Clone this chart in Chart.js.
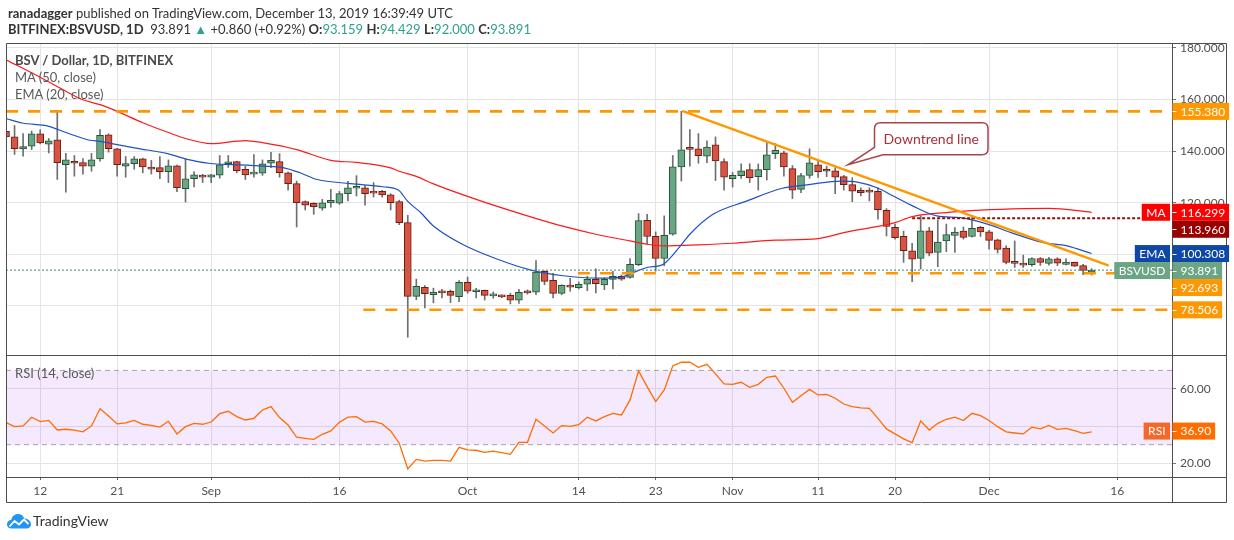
<!DOCTYPE html>
<html><head><meta charset="utf-8">
<script src="https://cdn.jsdelivr.net/npm/chart.js@4.4.1/dist/chart.umd.min.js"></script>
<style>
html,body{margin:0;padding:0;background:#fff;}
#wrap{position:relative;width:1234px;height:540px;overflow:hidden;font-family:Lato,'Open Sans',sans-serif;}
#c{position:absolute;left:0;top:0;}
.t{position:absolute;white-space:nowrap;line-height:16px;font-size:13px;}
.g{color:#2fa38f;}
</style></head><body>
<div id="wrap">
<canvas id="c" width="1234" height="540"></canvas>
<div class="t" style="left:8px;top:5px;color:#333"><b>ranadagger</b> published on TradingView.com, December 13, 2019 16:39:49 UTC</div>
<div class="t" style="left:8px;top:21px;color:#333"><b>BITFINEX:BSVUSD, 1D</b>&nbsp; 93.891 <span class="g">&#9650;</span> +0.860 (+0.92%) <b>O:</b><span class="g">93.159</span> <b>H:</b><span class="g">94.429</span> <b>L:</b><span class="g">92.000</span> <b>C:</b><span class="g">93.891</span></div>
<div class="t" style="left:15px;top:52px;color:#4a4a4a;font-weight:bold">BSV / Dollar, 1D, BITFINEX</div>
<div class="t" style="left:15px;top:69px;color:#5a5a5a">MA (50, close)</div>
<div class="t" style="left:15px;top:86px;color:#5a5a5a">EMA (20, close)</div>
<div class="t" style="left:15px;top:365px;color:#5a5a5a">RSI (14, close)</div>
<svg style="position:absolute;left:7px;top:513px" width="24" height="16" viewBox="0 0 24 16"><path d="M4.5 15.5 C1.5 15.5 0 13.5 0 11.2 C0 8.8 1.8 7 4.2 7 C4.8 3.4 7.6 1 11 1 C14 1 16.4 2.9 17.3 5.6 C21 5.6 24 8.2 24 11.2 C24 13.6 22.2 15.5 19.6 15.5 Z" fill="#2196f3"/><path d="M2.5 13.5 L7.5 8 L12 11.5 L17 6.5 L21.5 11" stroke="#fff" stroke-width="1.8" fill="none" stroke-linejoin="round"/></svg>
<div class="t" style="left:33px;top:513px;color:#333;font-size:14px">TradingView</div>
</div>
<script>
// ---- data (candle index 0 = 2019-08-08, one candle per day) ----
const opens = [147.7,145.5,140.8,141.9,146.7,142.7,144.4,134.7,136.0,135.6,
134.2,137.0,146.3,140.9,134.2,135.1,137.0,133.7,133.6,132.0,
134.3,125.4,129.3,130.5,129.9,130.7,135.1,135.9,132.9,131.1,
131.5,135.3,135.9,131.6,127.4,120.4,119.8,117.9,119.9,119.8,
123.5,125.6,125.8,124.0,124.4,123.1,120.4,112.3,83.7,87.2,
84.4,85.8,85.7,83.6,89.2,85.5,86.1,83.9,84.1,84.1,
82.2,85.8,85.3,93.4,89.9,84.9,87.7,87.1,88.4,90.3,
88.2,90.3,91.5,91.1,96.0,113.2,107.0,98.4,107.8,133.9,
141.0,140.9,138.0,142.4,135.9,129.3,130.5,132.8,130.1,132.8,
139.0,139.3,133.2,125.2,130.6,134.7,132.5,132.4,130.1,127.0,
124.8,124.9,124.4,117.1,110.5,107.0,101.4,98.4,109.1,100.7,
105.2,107.3,109.0,106.9,110.5,108.7,105.6,102.4,97.0,96.3,
96.0,98.4,96.5,98.3,96.1,96.9,95.6,93.159];
const highs = [148.5,149.9,146.8,147.8,148.3,144.9,155.7,139.1,138.3,137.1,
139.1,148.3,146.7,141.1,137.9,137.9,137.3,136.4,137.9,136.6,
134.6,136.9,132.1,131.0,131.0,138.3,138.3,136.1,134.1,138.7,
136.6,139.5,139.0,131.9,128.4,120.7,120.0,121.3,125.2,124.4,
128.3,130.5,126.7,127.8,124.8,123.5,121.0,115.1,90.4,87.9,
86.9,86.4,86.2,89.8,91.2,86.8,86.2,85.4,84.3,84.9,
86.4,86.2,97.6,93.6,92.6,88.2,90.7,89.3,91.5,94.4,
90.9,93.4,92.0,98.4,115.8,115.5,108.7,114.9,138.3,155.4,
148.3,146.8,144.0,145.5,137.0,131.7,135.1,135.1,135.0,143.3,
142.9,140.0,134.4,131.4,140.9,136.4,134.2,133.6,130.6,129.7,
125.8,125.8,125.8,117.7,111.7,109.0,104.3,114.9,110.5,113.3,
111.7,110.4,110.6,114.2,110.8,109.3,105.9,103.3,105.2,99.7,
98.7,98.8,98.8,98.7,98.4,97.0,96.1,94.429];
const lows = [144.5,138.7,138.0,140.6,142.8,139.3,129.0,124.1,130.3,131.1,
132.2,136.1,139.6,130.3,129.9,133.0,131.6,131.1,129.3,127.8,
124.3,120.3,126.1,127.8,127.8,129.5,133.7,131.6,129.0,129.9,
130.6,133.6,129.9,124.9,110.6,117.2,115.5,117.1,118.3,119.4,
120.7,122.6,119.1,122.2,122.2,117.2,111.5,67.9,82.4,79.2,
81.2,83.1,81.3,81.7,84.9,83.1,82.3,83.0,83.2,80.8,
81.0,84.6,84.4,88.2,83.1,84.4,85.7,86.6,85.9,85.1,
86.3,86.6,89.9,90.8,95.6,103.8,93.5,95.6,107.4,128.4,
134.2,135.3,135.5,128.6,124.9,126.1,129.4,127.8,124.9,128.8,
137.1,130.3,121.6,123.9,129.5,129.8,130.1,123.5,124.9,120.4,
122.6,120.7,113.6,107.1,105.9,96.9,89.4,94.3,99.4,95.2,
101.0,100.7,105.9,106.7,106.9,102.0,100.5,96.3,94.9,94.9,
95.4,95.7,95.8,95.6,95.9,95.3,92.1,92.0];
const closes = [145.5,140.9,141.8,146.7,143.2,144.0,135.5,136.6,135.3,134.2,
136.6,146.1,140.9,134.7,135.2,137.0,133.9,133.0,132.0,134.3,
125.8,129.3,130.8,129.9,130.8,134.7,135.6,132.4,130.8,131.7,
135.1,136.4,131.6,127.4,120.0,119.1,118.5,120.0,120.9,123.5,
125.8,126.1,123.5,123.7,123.0,120.0,112.3,83.7,87.6,84.8,
85.4,85.1,84.1,89.2,85.7,86.2,84.1,84.1,83.5,82.2,
85.3,85.1,93.1,89.5,84.9,88.0,87.3,88.4,90.3,88.6,
90.3,91.5,90.4,96.1,113.1,106.9,98.4,107.4,133.9,140.5,
140.7,138.2,141.6,136.2,129.9,130.6,132.4,129.7,132.8,138.6,
140.3,133.9,124.9,130.5,135.5,132.0,132.2,129.9,127.0,124.5,
123.9,124.1,117.3,110.8,106.5,101.4,98.1,109.1,100.5,104.8,
107.7,108.6,106.6,110.1,108.7,105.4,101.9,96.9,96.5,95.8,
98.4,96.9,98.3,96.6,97.0,95.4,93.8,93.891];
const rsiValues = [41.9,39.7,40.1,44.8,42.4,43.1,37.9,38.3,37.8,36.9,
40.1,49.4,45.5,41.2,41.7,43.1,41.0,40.4,39.5,42.6,
35.8,39.7,41.5,41.0,42.2,46.7,48.0,45.1,43.3,44.2,
48.7,50.5,44.6,40.6,34.0,33.4,32.9,35.6,37.4,42.1,
44.8,45.1,42.2,42.6,41.2,37.4,30.8,16.9,22.1,21.2,
21.6,21.6,21.2,28.6,27.2,27.0,25.9,26.5,25.7,24.8,
31.3,31.3,43.7,40.1,36.3,40.3,39.9,40.8,44.8,42.8,
45.1,46.9,46.0,54.1,69.7,61.3,53.2,59.5,72.4,74.4,
74.4,71.7,73.3,68.1,62.7,62.5,63.6,60.9,62.5,66.3,
67.0,60.4,52.8,56.4,59.8,56.8,57.1,55.0,51.9,50.5,
49.8,49.6,44.2,38.5,35.8,33.1,31.1,42.8,37.9,41.5,
43.7,44.8,43.0,46.9,45.6,43.0,39.7,36.9,36.3,35.8,
39.4,38.5,40.4,38.3,38.8,37.6,36.1,36.9];
const maX = [0,4,7,9,11,13,16,19,21,24,28,30,34,38,41,45,46,48,50,55,61,65,69,73,75,77,81,85,90,95,98,104,106,110,114,119,122,127];
const maY = [175.4,168.6,163.2,159.9,158.0,155.4,151.0,147.2,144.9,142.9,144.1,143.3,140.6,136.4,135.6,133.5,132.2,130.2,127.3,121.3,114.9,111.0,107.8,105.2,103.9,103.3,103.7,104.3,105.5,106.1,108.4,112.3,114.6,116.2,117.1,117.7,117.8,116.299];
const emaX = [0,1.9,5,7.1,9.8,11,13,15.7,18.8,21.2,23.9,26.6,30.1,32.4,34.4,36.4,40.3,44.1,45.9,47,48.5,50,53.5,57.5,61.3,65.2,69.2,71.9,73.4,75,76.9,78.9,80,82.7,86.7,90.7,94.1,97.6,99.6,101.9,103.8,106.1,108.9,111.6,114.8,117.5,121.3,124.1,127];
const emaY = [152.6,150.9,149.6,147.1,144.2,143.8,142.5,140.9,139.1,136.8,135.2,134.8,134.2,133.6,131.6,129.0,127.4,126.2,124.9,120.5,116.2,111.0,103.7,98.1,94.0,91.7,90.8,91.1,93.0,94.9,96.2,103.3,107.8,115.5,120.7,125.5,127.1,128.4,128.0,125.8,122.6,118.7,114.9,114.2,111.7,108.5,104.6,103.3,100.308];
const tickX = [4,13,24,39,54,67,76,85,95,104,115,130];
const tickLabels = ['12','21','Sep','16','Oct','14','23','Nov','11','20','Dec','16'];
const levelY = [155.380, 92.693, 78.506];
const levelFrom = [0, 66.9, 41.8];
const levelTo = [136.4, 130, 136.4];
const resistY = 113.960, resistFrom = 106;
const trendX = [79.1, 129], trendY = [155.6, 95.6];
const maLast = 116.299, emaLast = 100.308, rsiLast = 36.90;
const lastPrice = closes[closes.length - 1];
const calloutAt = {x: 98.5, y: 134.7, text: 'Downtrend line'};

// ---- chart ----
const X_MIN = 0, X_MAX = 136.4;
const FONT = 'Lato, "Open Sans", sans-serif';
const idx = opens.map((_, i) => i);
const isUp = i => closes[i] >= opens[i];
const hline = (y, x0, x1) => [{x: x0, y}, {x: x1, y}];

const datasets = [
  {type:'line', yAxisID:'yRsi', data: hline(70, X_MIN, X_MAX), borderColor:'#a8a0ae', borderWidth:1, borderDash:[5,4],
   fill:'+1', backgroundColor:'rgba(150,40,240,0.10)', pointRadius:0, order:30},
  {type:'line', yAxisID:'yRsi', data: hline(30, X_MIN, X_MAX), borderColor:'#a8a0ae', borderWidth:1, borderDash:[5,4],
   fill:false, pointRadius:0, order:29},
  {type:'bar', yAxisID:'y', data: idx.map(i => ({x:i, y:[lows[i], highs[i]]})), backgroundColor:'#6f6f6f',
   barThickness:1, grouped:false, order:20},
  {type:'bar', yAxisID:'y', data: idx.map(i => ({x:i, y:[opens[i], closes[i]]})),
   backgroundColor: idx.map(i => isUp(i) ? '#6ba583' : '#d75442'),
   borderColor: idx.map(i => isUp(i) ? '#225437' : '#6b1d14'),
   borderWidth:1, borderSkipped:false, barThickness:7, grouped:false, minBarLength:2, order:19},
  {type:'line', yAxisID:'y', data: maX.map((x, i) => ({x, y: maY[i]})), borderColor:'#ff1a1a', borderWidth:1.2,
   pointRadius:0, cubicInterpolationMode:'monotone', fill:false, order:12},
  {type:'line', yAxisID:'y', data: emaX.map((x, i) => ({x, y: emaY[i]})), borderColor:'#1f52bd', borderWidth:1.2,
   pointRadius:0, cubicInterpolationMode:'monotone', fill:false, order:11},
  {type:'line', yAxisID:'y', data: hline(lastPrice, X_MIN, X_MAX), borderColor:'#4c8a62', borderWidth:1, borderDash:[2,2],
   pointRadius:0, fill:false, order:10},
  ...levelY.map((v, k) => ({type:'line', yAxisID:'y', data: hline(v, levelFrom[k], levelTo[k]), borderColor:'#ff9800',
   borderWidth:2.6, borderDash:[12,10], pointRadius:0, fill:false, order:9})),
  {type:'line', yAxisID:'y', data: hline(resistY, resistFrom, X_MAX), borderColor:'#8e1010', borderWidth:2, borderDash:[3,2],
   pointRadius:0, fill:false, order:8},
  {type:'line', yAxisID:'y', data: trendX.map((x, i) => ({x, y: trendY[i]})), borderColor:'#ff9800', borderWidth:2.4,
   pointRadius:0, fill:false, order:7},
  {type:'line', yAxisID:'yRsi', data: idx.map(i => ({x:i, y: rsiValues[i]})), borderColor:'#ff6d00', borderWidth:1.3,
   pointRadius:0, fill:false, order:6}
];

function drawTagLabel(ctx, axisX, yPix, text, bg, tag, tagBg) {
  ctx.font = '12px ' + FONT;
  const tw = ctx.measureText(text).width;
  const h = 17, w = 8 + tw + 4;
  ctx.fillStyle = bg;
  ctx.fillRect(axisX, yPix - h / 2, w, h);
  ctx.strokeStyle = '#ffffff'; ctx.lineWidth = 1;
  ctx.beginPath(); ctx.moveTo(axisX, Math.round(yPix) + 0.5); ctx.lineTo(axisX + 4, Math.round(yPix) + 0.5); ctx.stroke();
  ctx.fillStyle = '#ffffff'; ctx.textBaseline = 'middle'; ctx.textAlign = 'left';
  ctx.fillText(text, axisX + 8, yPix + 0.5);
  if (tag) {
    const gw = ctx.measureText(tag).width + 9;
    ctx.fillStyle = tagBg || bg;
    ctx.fillRect(axisX - 2.5 - gw, yPix - h / 2, gw, h);
    ctx.fillStyle = '#ffffff'; ctx.textAlign = 'center';
    ctx.fillText(tag, axisX - 2.5 - gw / 2, yPix + 0.5);
  }
}

const decor = {
  id: 'decor',
  beforeDraw(chart) {
    const ctx = chart.ctx;
    ctx.save(); ctx.fillStyle = '#fff'; ctx.fillRect(0, 0, chart.width, chart.height); ctx.restore();
  },
  afterDraw(chart) {
    const {ctx, chartArea: a, scales} = chart;
    const x = scales.x, y = scales.y, yr = scales.yRsi;
    ctx.save();
    // callout
    const tx = x.getPixelForValue(calloutAt.x), ty = y.getPixelForValue(calloutAt.y);
    const L = tx + 26.5, T = ty - 42, W = 113.5, H = 32, r = 6, R = L + W, B = T + H;
    ctx.beginPath();
    ctx.moveTo(L + r, T); ctx.lineTo(R - r, T); ctx.quadraticCurveTo(R, T, R, T + r);
    ctx.lineTo(R, B - r); ctx.quadraticCurveTo(R, B, R - r, B);
    ctx.lineTo(L + 8.5, B); ctx.lineTo(tx, ty); ctx.lineTo(L, B - 7.5);
    ctx.lineTo(L, T + r); ctx.quadraticCurveTo(L, T, L + r, T); ctx.closePath();
    ctx.fillStyle = '#ffffff'; ctx.fill();
    ctx.strokeStyle = '#a8434c'; ctx.lineWidth = 1.5; ctx.stroke();
    ctx.font = '14px ' + FONT; ctx.fillStyle = '#a8303b'; ctx.textAlign = 'center'; ctx.textBaseline = 'middle';
    ctx.fillText(calloutAt.text, L + W / 2, T + H / 2 + 0.5);
    // frame
    const fl = a.left + 0.5, fr = y.right - 0.5, ft = a.top - 0.5, fb = x.bottom - 0.5;
    const ax = a.right + 0.5, sep = Math.round(y.bottom) + 0.5, rb = Math.round(a.bottom) + 0.5;
    ctx.strokeStyle = '#4d4d4d'; ctx.lineWidth = 1;
    ctx.beginPath();
    ctx.rect(fl, ft, fr - fl, fb - ft);
    ctx.moveTo(fl, sep); ctx.lineTo(fr, sep);
    ctx.moveTo(fl, rb); ctx.lineTo(fr, rb);
    ctx.moveTo(ax, ft); ctx.lineTo(ax, fb);
    ctx.stroke();
    // axis value labels
    const axisX = a.right + 0.5;
    const items = [
      {v: levelY[0], bg:'#ff9800'},
      {v: maLast, bg:'#ff0000', tag:'MA'},
      {v: resistY, bg:'#990000'},
      {v: emaLast, bg:'#0f47a6', tag:'EMA'},
      {v: lastPrice, bg:'#6ba583', tag:'BSVUSD'},
      {v: levelY[1], bg:'#ff9800'},
      {v: levelY[2], bg:'#ff9800'}
    ].map(o => ({...o, p: y.getPixelForValue(o.v)})).sort((m, n) => m.p - n.p);
    for (let k = 1; k < items.length; k++) {
      if (items[k].p < items[k - 1].p + 17) items[k].p = items[k - 1].p + 17;
    }
    items.forEach(o => drawTagLabel(ctx, axisX, o.p, o.v.toFixed(3), o.bg, o.tag));
    drawTagLabel(ctx, axisX, yr.getPixelForValue(rsiLast) - 0.8, rsiLast.toFixed(2), '#ff6d00', 'RSI', '#f4692a');
    ctx.restore();
  }
};

const tickFont = {family: FONT, size: 12};
new Chart(document.getElementById('c'), {
  type: 'line',
  data: {datasets},
  options: {
    responsive: false, animation: false, events: [],
    layout: {padding: {left: 6, right: 7, top: 44, bottom: 37}},
    plugins: {legend: {display: false}, tooltip: {enabled: false}},
    scales: {
      y: {
        type: 'linear', position: 'right', stack: 'panes', stackWeight: 311,
        min: 61.0, max: 181.5,
        afterFit: s => { s.width = 55; },
        border: {display: false},
        grid: {color: '#e4e4e4', tickColor: '#777', tickLength: 4},
        ticks: {stepSize: 20, includeBounds: false, padding: 4, color: '#4f4f4f', font: tickFont,
                callback: v => Number(v).toFixed(3)}
      },
      yRsi: {
        type: 'linear', position: 'right', stack: 'panes', stackWeight: 122,
        min: 12.6, max: 78.3,
        afterFit: s => { s.width = 55; },
        border: {display: false},
        grid: {color: '#e4e4e4', tickColor: '#777', tickLength: 4},
        ticks: {stepSize: 20, includeBounds: false, padding: 4, color: '#4f4f4f', font: tickFont,
                callback: v => (Math.abs(v - rsiLast) < 6 ? '' : Number(v).toFixed(2))}
      },
      x: {
        type: 'linear', position: 'bottom', min: X_MIN, max: X_MAX, offset: false,
        afterFit: s => { s.height = 26; },
        afterBuildTicks: s => { s.ticks = tickX.map(v => ({value: v})); },
        border: {display: false},
        grid: {color: '#e4e4e4', tickColor: '#666', tickLength: 3, offset: false},
        ticks: {autoSkip: false, maxRotation: 0, padding: 4, color: '#4f4f4f', font: tickFont,
                callback: (v, i) => tickLabels[i]}
      }
    }
  },
  plugins: [decor]
});
</script>
</body></html>
